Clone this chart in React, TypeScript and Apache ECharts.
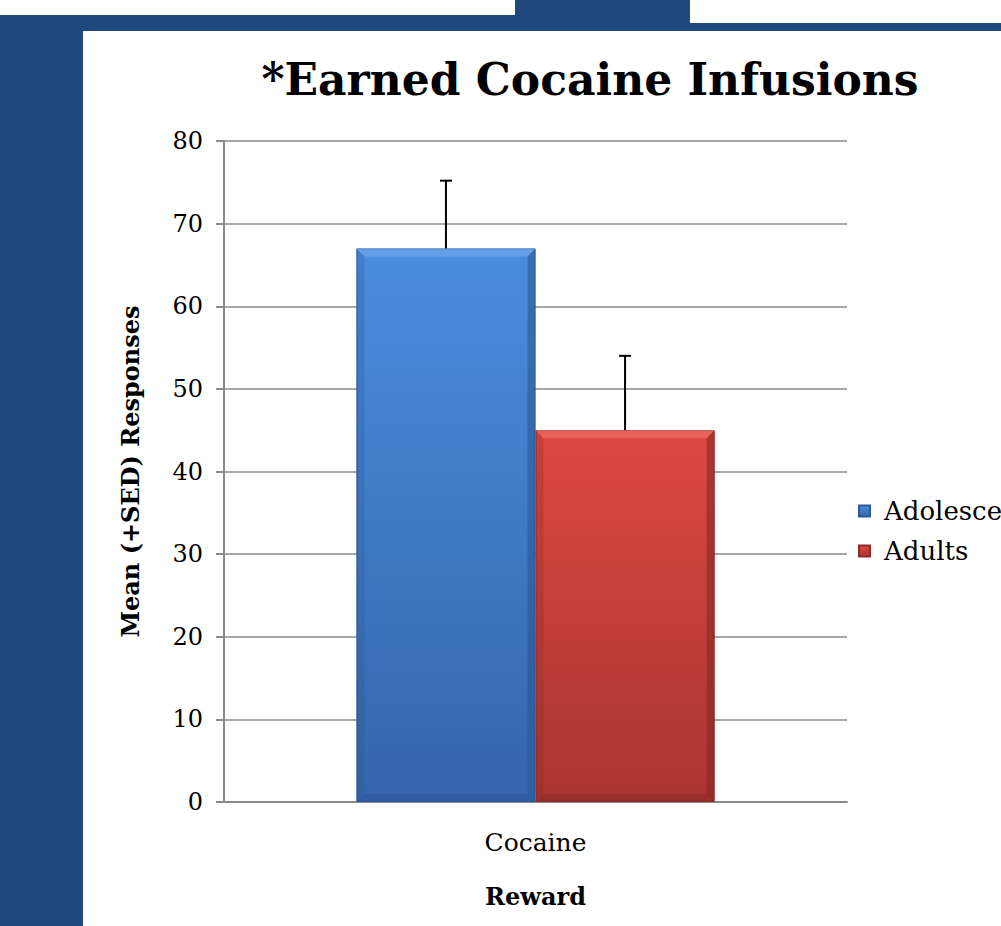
import React, { useEffect, useRef } from "react";
import * as echarts from "echarts";

const categories = ["Cocaine"];
const seriesNames = ["Adolescents", "Adults"];
const adolescentsValues = [67];
const adultsValues = [45];
const adolescentsErrors = [8.2];
const adultsErrors = [9];
const yTicks = [0, 10, 20, 30, 40, 50, 60, 70, 80];

const FONT = "'DejaVu Serif', 'Liberation Serif', serif";
const BLUE_DARK = "#1F497D";
const CAT_GAP = 0.425;

const palette = [
  { top: "#4A8DDD", bottom: "#3565AA", light: "#6FA6EA", dark: "#2A5591", edge: "#2C5B98" },
  { top: "#DE4843", bottom: "#A83531", light: "#EE6B66", dark: "#842623", edge: "#8E2B28" },
];

function grad(p: any) {
  return new echarts.graphic.LinearGradient(0, 0, 0, 1, [
    { offset: 0, color: p.top },
    { offset: 1, color: p.bottom },
  ]);
}

export default function App() {
  const ref = useRef<HTMLDivElement>(null);
  useEffect(() => {
    if (!ref.current) return;
    const chart = echarts.init(ref.current, null, { renderer: "svg" });
    const valuesBySeries = [adolescentsValues, adultsValues];
    const errorsBySeries = [adolescentsErrors, adultsErrors];
    const overlayData: number[][] = [];
    valuesBySeries.forEach((vals, s) =>
      vals.forEach((v, i) => overlayData.push([i, v, errorsBySeries[s][i], s]))
    );

    const option: any = {
      animation: false,
      backgroundColor: "#ffffff",
      textStyle: { fontFamily: FONT },
      graphic: [
        { type: "rect", shape: { x: 0, y: 15, width: 515, height: 16 }, style: { fill: BLUE_DARK }, silent: true },
        { type: "rect", shape: { x: 515, y: 0, width: 175, height: 31 }, style: { fill: BLUE_DARK }, silent: true },
        { type: "rect", shape: { x: 690, y: 23, width: 311, height: 8 }, style: { fill: BLUE_DARK }, silent: true },
        { type: "rect", shape: { x: 0, y: 31, width: 83, height: 895 }, style: { fill: BLUE_DARK }, silent: true },
      ],
      title: {
        text: "*Earned Cocaine Infusions",
        left: 585,
        textAlign: "center",
        top: 52,
        textStyle: { fontFamily: FONT, fontSize: 44, fontWeight: "bold", color: "#000" },
      },
      legend: {
        data: seriesNames,
        orient: "vertical",
        left: 858,
        top: 498,
        padding: 0,
        itemWidth: 11,
        itemHeight: 11,
        itemGap: 14,
        icon: "rect",
        textStyle: { fontFamily: FONT, fontSize: 26, color: "#000", padding: [0, 0, 0, 9] },
      },
      grid: { left: 224, right: 154, top: 141, bottom: 124, containLabel: false },
      xAxis: {
        type: "category",
        data: categories,
        name: "Reward",
        nameLocation: "middle",
        nameGap: 82,
        nameTextStyle: { fontFamily: FONT, fontSize: 24, fontWeight: "bold", color: "#000" },
        axisLine: { show: true, lineStyle: { color: "#8a8a8a", width: 2 } },
        axisTick: { show: false },
        axisLabel: { fontFamily: FONT, fontSize: 25, color: "#000", margin: 28 },
      },
      yAxis: {
        type: "value",
        min: yTicks[0],
        max: yTicks[yTicks.length - 1],
        interval: 10,
        name: "Mean (+SED) Responses",
        nameLocation: "middle",
        nameGap: 82,
        nameTextStyle: { fontFamily: FONT, fontSize: 24, fontWeight: "bold", color: "#000" },
        axisLine: { show: true, lineStyle: { color: "#8a8a8a", width: 2 } },
        axisTick: { show: true, length: 8, lineStyle: { color: "#8a8a8a", width: 2 } },
        axisLabel: { fontFamily: FONT, fontSize: 24, color: "#000", margin: 21 },
        splitLine: { show: true, lineStyle: { color: "#8a8a8a", width: 1.5 } },
      },
      series: [
        {
          name: seriesNames[0],
          type: "bar",
          data: adolescentsValues,
          barGap: "0%",
          barCategoryGap: CAT_GAP * 100 + "%",
          itemStyle: { color: grad(palette[0]), borderColor: palette[0].edge, borderWidth: 1 },
        },
        {
          name: seriesNames[1],
          type: "bar",
          data: adultsValues,
          barGap: "0%",
          barCategoryGap: CAT_GAP * 100 + "%",
          itemStyle: { color: grad(palette[1]), borderColor: palette[1].edge, borderWidth: 1 },
        },
        {
          type: "custom",
          name: "overlay",
          data: overlayData,
          encode: { x: 0, y: 1 },
          z: 5,
          renderItem: (params: any, api: any) => {
            const cat = api.value(0);
            const val = api.value(1);
            const err = api.value(2);
            const s = api.value(3);
            const p = palette[s];
            const center = api.coord([cat, 0]);
            const catW = api.size([1, 0])[0];
            const barW = (catW * (1 - CAT_GAP)) / 2;
            const x0 = center[0] - barW + s * barW;
            const x1 = x0 + barW;
            const yB = center[1];
            const yT = api.coord([cat, val])[1];
            const yE = api.coord([cat, val + err])[1];
            const xc = (x0 + x1) / 2;
            const b = 8;
            return {
              type: "group",
              children: [
                {
                  type: "polygon",
                  shape: { points: [[x0, yT], [x1, yT], [x1 - b, yT + b], [x0 + b, yT + b]] },
                  style: { fill: p.light, opacity: 0.75 },
                },
                {
                  type: "polygon",
                  shape: { points: [[x1, yT], [x1, yB], [x1 - b, yB - b], [x1 - b, yT + b]] },
                  style: { fill: p.dark, opacity: 0.55 },
                },
                {
                  type: "polygon",
                  shape: { points: [[x0, yT], [x0 + b, yT + b], [x0 + b, yB - b], [x0, yB]] },
                  style: { fill: p.dark, opacity: 0.25 },
                },
                {
                  type: "polygon",
                  shape: { points: [[x0, yB], [x0 + b, yB - b], [x1 - b, yB - b], [x1, yB]] },
                  style: { fill: p.dark, opacity: 0.4 },
                },
                {
                  type: "line",
                  shape: { x1: xc, y1: yT, x2: xc, y2: yE },
                  style: { stroke: "#000", lineWidth: 2 },
                },
                {
                  type: "line",
                  shape: { x1: xc - 6, y1: yE, x2: xc + 6, y2: yE },
                  style: { stroke: "#000", lineWidth: 2 },
                },
              ],
            };
          },
        },
      ],
    };
    chart.setOption(option);
    return () => chart.dispose();
  }, []);
  return (
    <div
      ref={ref}
      style={{ position: "absolute", left: 0, top: 0, width: 1001, height: 926 }}
    />
  );
}
